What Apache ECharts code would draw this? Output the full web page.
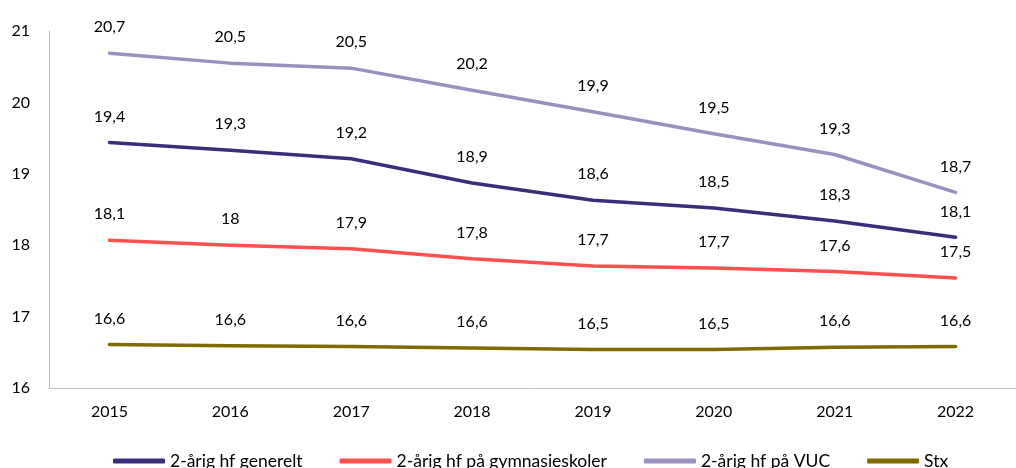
<!DOCTYPE html>
<html><head><meta charset="utf-8">
<script src="https://cdn.jsdelivr.net/npm/echarts@6/dist/echarts.min.js"></script>
<style>html,body{margin:0;padding:0;background:#fff}#c{width:1016px;height:468px}</style>
</head><body><div id="c"></div>
<script>
const years = ['2015','2016','2017','2018','2019','2020','2021','2022'];
const generelt = [19.44,19.33,19.21,18.87,18.63,18.52,18.34,18.11];
const generteltLabels = ['19,4','19,3','19,2','18,9','18,6','18,5','18,3','18,1'];
const gymnasie = [18.07,18.00,17.95,17.81,17.71,17.68,17.63,17.54];
const gymnasieLabels = ['18,1','18','17,9','17,8','17,7','17,7','17,6','17,5'];
const vuc = [20.69,20.55,20.48,20.17,19.87,19.56,19.27,18.74];
const vucLabels = ['20,7','20,5','20,5','20,2','19,9','19,5','19,3','18,7'];
const stx = [16.61,16.59,16.58,16.56,16.54,16.54,16.57,16.58];
const stxLabels = ['16,6','16,6','16,6','16,6','16,5','16,5','16,6','16,6'];
const seriesNames = ['2-årig hf generelt','2-årig hf på gymnasieskoler','2-årig hf på VUC','Stx'];
const colors = ['#3a2d7a','#ff5050','#9b8fbf','#7f6a00'];

const FONT = 'Lato';
function mk(name, data, labels, color){
  return {
    name, type:'line', data, symbol:'circle', symbolSize:0, showSymbol:true, smooth:false,
    lineStyle:{color, width:3.5, cap:'round', join:'round'},
    itemStyle:{color},
    label:{show:true, position:'top', distance:18, color:'#000', fontFamily:FONT, fontSize:16,
      formatter:p=>labels[p.dataIndex]},
    labelLayout:{hideOverlap:false},
    z: 2
  };
}
const chart = echarts.init(document.getElementById('c'));
chart.setOption({
  animation:false,
  color:colors,
  grid:{left:49, right:-12, top:31, bottom:80},
  legend:{
    top:447, left:108, itemGap:37, itemWidth:52, itemHeight:5, icon:'roundRect',
    textStyle:{fontFamily:FONT, fontSize:17.5, color:'#000'},
    data:seriesNames
  },
  xAxis:{type:'category', data:years, boundaryGap:true,
    axisLine:{lineStyle:{color:'#bfbfbf', width:1}}, axisTick:{show:false},
    axisLabel:{color:'#000', fontFamily:FONT, fontSize:16, margin:16}},
  yAxis:{type:'value', min:16, max:21, interval:1,
    axisLine:{show:true, lineStyle:{color:'#bfbfbf', width:1}}, axisTick:{show:false},
    splitLine:{show:false},
    axisLabel:{color:'#000', fontFamily:FONT, fontSize:16, margin:19}},
  series:[
    mk(seriesNames[0], generelt, generteltLabels, colors[0]),
    mk(seriesNames[1], gymnasie, gymnasieLabels, colors[1]),
    mk(seriesNames[2], vuc, vucLabels, colors[2]),
    mk(seriesNames[3], stx, stxLabels, colors[3])
  ]
});
</script></body></html>
